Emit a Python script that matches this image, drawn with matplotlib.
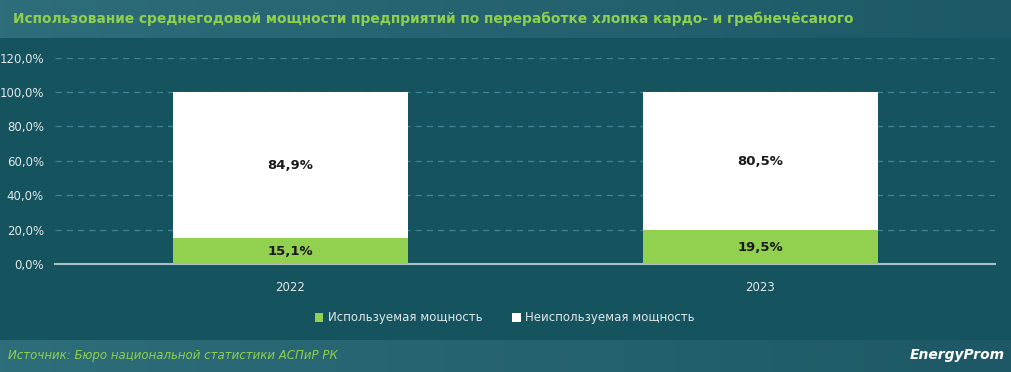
import matplotlib.pyplot as plt
import numpy as np
from matplotlib.colors import LinearSegmentedColormap

years = ['2022', '2023']
used = [15.1, 19.5]
unused = [84.9, 80.5]
yticks = [0, 20, 40, 60, 80, 100, 120]

bg = '#15535f'
green = '#92d050'

fig = plt.figure(figsize=(10.11, 3.72), dpi=100)
fig.patch.set_facecolor(bg)

# header and footer bands with a soft gradient
grad = np.linspace(0, 1, 256).reshape(1, -1)
hcmap = LinearSegmentedColormap.from_list('hdr', ['#2e6d7a', '#1e5866'])
for y0, h in [(1 - 38 / 372, 38 / 372), (0, 32 / 372)]:
    bax = fig.add_axes([0, y0, 1, h])
    bax.imshow(grad, aspect='auto', cmap=hcmap, extent=[0, 1, 0, 1])
    bax.axis('off')

fig.text(13 / 1011, 1 - 19 / 372, 'Использование среднегодовой мощности предприятий по переработке хлопка кардо- и гребнечёсаного',
         color='#8fd14f', fontsize=9.9, fontweight='bold', va='center', ha='left')
fig.text(8 / 1011, 1 - 355 / 372, 'Источник: Бюро национальной статистики АСПиР РК',
         color='#8fd14f', fontsize=8.5, style='italic', va='center', ha='left')
fig.text(1005 / 1011, 1 - 355 / 372, 'EnergyProm', color='white', fontsize=10,
         fontweight='bold', style='italic', va='center', ha='right')

ax = fig.add_axes([55 / 1011, 1 - 264 / 372, 940 / 1011, (264 - 57.6) / 372])
ax.set_facecolor(bg)
x = np.arange(len(years))
b1 = ax.bar(x, used, width=0.5, color=green, label='Используемая мощность', zorder=3)
b2 = ax.bar(x, unused, width=0.5, bottom=used, color='white', label='Неиспользуемая мощность', zorder=3)

for i in range(len(years)):
    ax.text(x[i], used[i] / 2, ('%.1f%%' % used[i]).replace('.', ','), ha='center', va='center',
            fontsize=9.5, fontweight='bold', color='#1a1a1a', zorder=4)
    ax.text(x[i], used[i] + unused[i] / 2, ('%.1f%%' % unused[i]).replace('.', ','), ha='center',
            va='center', fontsize=9.5, fontweight='bold', color='#1a1a1a', zorder=4)

ax.set_xlim(-0.5, 1.5)
ax.set_ylim(0, 120)
ax.set_yticks(yticks)
ax.set_yticklabels([('%.1f%%' % v).replace('.', ',') for v in yticks], color='#dfe8ea', fontsize=8.5)
ax.set_xticks(x)
ax.set_xticklabels(years, color='#dfe8ea', fontsize=8.5)
ax.tick_params(length=0, pad=8)
ax.tick_params(axis='x', pad=12)
ax.grid(axis='y', color='#3f8596', linestyle=(0, (5, 4)), linewidth=0.9, zorder=0)
for s in ['top', 'right', 'left']:
    ax.spines[s].set_visible(False)
ax.spines['bottom'].set_color('#a9bfc3')
ax.spines['bottom'].set_linewidth(1.5)

leg = fig.legend(handles=[b1, b2], loc='center', bbox_to_anchor=(505 / 1011, 1 - 318 / 372), ncol=2,
                 frameon=False, fontsize=8.5, handlelength=0.7, handleheight=0.7,
                 handletextpad=0.4, columnspacing=2.5)
for t in leg.get_texts():
    t.set_color('#dfe8ea')

fig.savefig('out.png', dpi=100, facecolor=fig.get_facecolor())
